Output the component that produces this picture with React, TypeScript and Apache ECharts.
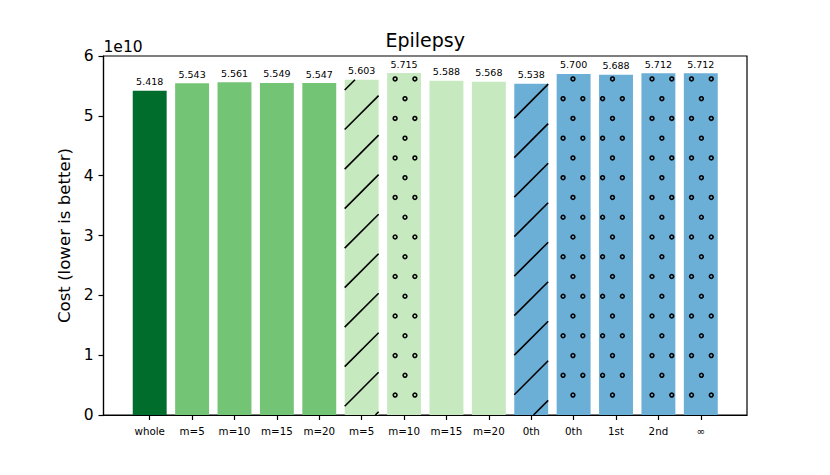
import React, { useEffect, useRef } from "react";
import * as echarts from "echarts";

// ---- data (cost values in units of 1e10) ----
const categories = ["whole", "m=5", "m=10", "m=15", "m=20", "m=5", "m=10", "m=15", "m=20", "0th", "0th", "1st", "2nd", "∞"];
const costs = [5.418, 5.543, 5.561, 5.549, 5.547, 5.603, 5.715, 5.588, 5.568, 5.538, 5.7, 5.688, 5.712, 5.712];
const fillGroups = ["whole", "sub", "sub", "sub", "sub", "light", "light", "light", "light", "blue", "blue", "blue", "blue", "blue"];
const hatches = ["", "", "", "", "", "/", "o", "", "", "/", "o", "o", "o", "o"];
const yTicks = [0, 1, 2, 3, 4, 5, 6];
const chartTitle = "Epilepsy";
const yAxisName = "Cost (lower is better)";
const yScaleLabel = "1e10";

const palette: Record<string, string> = {
  whole: "#006d2c",
  sub: "#74c476",
  light: "#c7e9c0",
  blue: "#6baed6",
};

const FONT = "DejaVu Sans";
const GRID_LEFT = 103.5;
const GRID_TOP = 56;
const GRID_W = 643.5;
const GRID_H = 359;
const X_MIN = -1.09;
const X_MAX = 14.09;
const PX_PER_UNIT = GRID_W / (X_MAX - X_MIN);
const BAR_W = 0.8 * PX_PER_UNIT;

// hatch geometry (pixel space)
const HP = 19.76;
const LINE_C0 = 553.3;
const DOT_X0 = 405;
const DOT_Y0 = 177.7;

function hatchRender(params: any, api: any) {
  const idx = api.value(0);
  const v = api.value(1);
  const kind = api.value(2);
  const top = api.coord([idx, v]);
  const bot = api.coord([idx, 0]);
  const w = api.size([0.8, 0])[0];
  const x0 = top[0] - w / 2;
  const x1 = top[0] + w / 2;
  const y0 = top[1];
  const y1 = bot[1];
  const children: any[] = [];
  if (kind === 1) {
    const step = 2 * HP;
    const kStart = Math.floor((x0 + y0 - LINE_C0) / step) - 1;
    const kEnd = Math.ceil((x1 + y1 - LINE_C0) / step) + 1;
    for (let k = kStart; k <= kEnd; k++) {
      const c = LINE_C0 + k * step;
      const xa = Math.max(x0, c - y1);
      const xb = Math.min(x1, c - y0);
      if (xb - xa > 0.5) {
        children.push({
          type: "line",
          shape: { x1: xa, y1: c - xa, x2: xb, y2: c - xb },
          style: { stroke: "#000", lineWidth: 1.6 },
        });
      }
    }
  } else if (kind === 2) {
    const jStart = Math.floor((y0 - DOT_Y0) / HP) - 1;
    const jEnd = Math.ceil((y1 - DOT_Y0) / HP) + 1;
    for (let j = jStart; j <= jEnd; j++) {
      const cy = DOT_Y0 + j * HP;
      if (cy < y0 + 2.6 || cy > y1 - 2.6) continue;
      const off = Math.abs(j) % 2 === 1 ? HP / 2 : 0;
      const iStart = Math.floor((x0 - DOT_X0 - off) / HP) - 1;
      const iEnd = Math.ceil((x1 - DOT_X0 - off) / HP) + 1;
      for (let i = iStart; i <= iEnd; i++) {
        const cx = DOT_X0 + off + i * HP;
        if (cx < x0 + 2.6 || cx > x1 - 2.6) continue;
        children.push({
          type: "circle",
          shape: { cx, cy, r: 1.9 },
          style: { fill: "none", stroke: "#000", lineWidth: 1.6 },
        });
      }
    }
  }
  return { type: "group", children };
}

export default function App() {
  const ref = useRef<HTMLDivElement>(null);
  useEffect(() => {
    if (!ref.current) return;
    const chart = echarts.init(ref.current, null, { renderer: "svg" });
    const indices = categories.map((_, i) => i);
    const option: any = {
      animation: false,
      backgroundColor: "#fff",
      textStyle: { fontFamily: FONT, color: "#000" },
      grid: {
        left: GRID_LEFT,
        top: GRID_TOP,
        width: GRID_W,
        height: GRID_H,
        show: true,
        borderColor: "#000",
        borderWidth: 1.2,
        backgroundColor: "transparent",
        containLabel: false,
      },
      graphic: [
        {
          type: "text",
          x: 425.25,
          y: 39.5,
          style: {
            text: chartTitle,
            font: `19px '${FONT}'`,
            fill: "#000",
            align: "center",
            verticalAlign: "middle",
          },
        },
        {
          type: "text",
          x: 103.5,
          y: 47,
          style: {
            text: yScaleLabel,
            font: `15.5px '${FONT}'`,
            fill: "#000",
            align: "left",
            verticalAlign: "middle",
          },
        },
      ],
      xAxis: {
        type: "value",
        min: X_MIN,
        max: X_MAX,
        splitLine: { show: false },
        axisLine: { show: true, onZero: false, lineStyle: { color: "#000", width: 1.2 } },
        axisTick: {
          show: true,
          customValues: indices,
          length: 5,
          lineStyle: { color: "#000", width: 1.2 },
        },
        axisLabel: {
          customValues: indices,
          formatter: (val: number) => categories[Math.round(val)] ?? "",
          fontSize: 10.3,
          color: "#000",
          fontFamily: FONT,
          margin: 11,
        },
      },
      yAxis: {
        type: "value",
        min: 0,
        max: 6,
        interval: 1,
        splitLine: { show: false },
        axisLine: { show: true, onZero: false, lineStyle: { color: "#000", width: 1.2 } },
        axisTick: { show: true, length: 5, lineStyle: { color: "#000", width: 1.2 } },
        axisLabel: {
          fontSize: 15.5,
          color: "#000",
          fontFamily: FONT,
          margin: 10,
          formatter: (val: number) => (yTicks.includes(val) ? String(val) : ""),
        },
        name: yAxisName,
        nameLocation: "middle",
        nameGap: 29,
        nameRotate: 90,
        nameTextStyle: { fontSize: 16.6, color: "#000", fontFamily: FONT },
      },
      series: [
        {
          type: "bar",
          barWidth: BAR_W,
          data: costs.map((v, i) => ({
            value: [i, v],
            itemStyle: { color: palette[fillGroups[i]] },
          })),
          label: {
            show: true,
            position: "top",
            distance: 4,
            fontSize: 9.5,
            color: "#000",
            fontFamily: FONT,
            formatter: (p: any) => Number(p.value[1]).toFixed(3),
          },
          z: 2,
        },
        {
          type: "custom",
          renderItem: hatchRender,
          encode: { x: 0, y: 1 },
          silent: true,
          z: 3,
          data: costs
            .map((v, i) => [i, v, hatches[i] === "/" ? 1 : hatches[i] === "o" ? 2 : 0])
            .filter((d) => d[2] > 0),
        },
      ],
    };
    chart.setOption(option);
    return () => chart.dispose();
  }, []);
  return (
    <div
      ref={ref}
      style={{ position: "fixed", left: 0, top: 0, width: 830, height: 475, background: "#fff" }}
    />
  );
}
